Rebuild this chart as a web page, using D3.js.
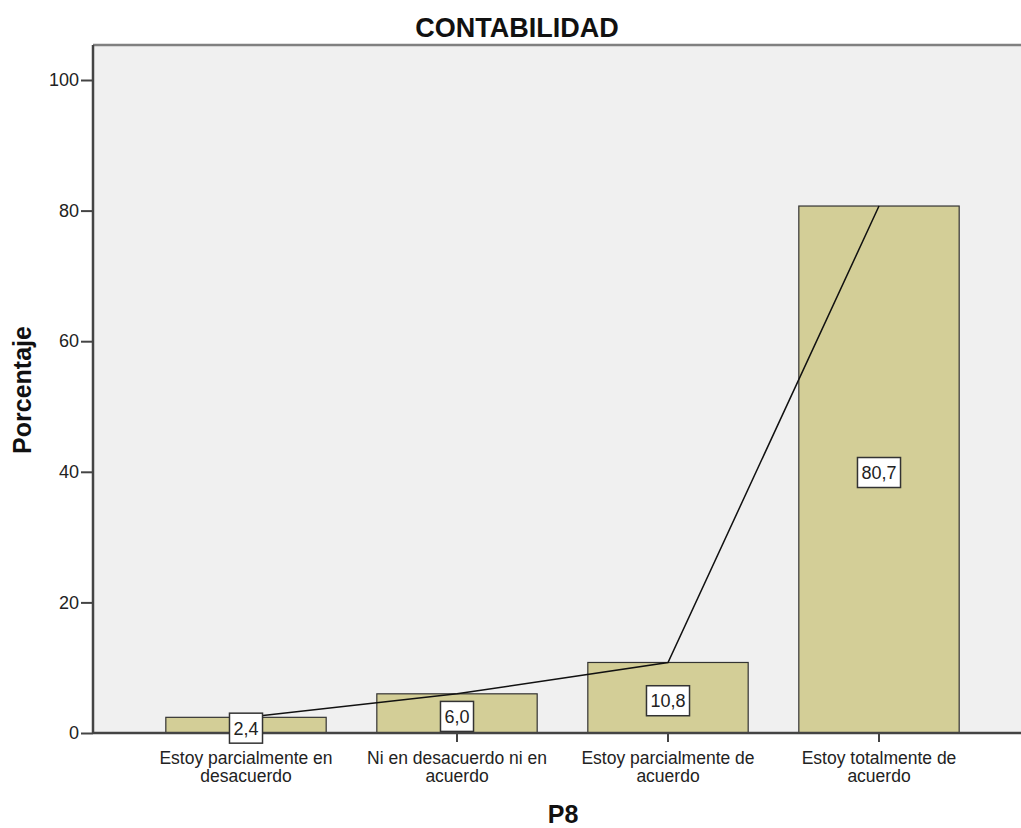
<!DOCTYPE html>
<html><head><meta charset="utf-8">
<script src="https://cdn.jsdelivr.net/npm/d3@7"></script>
<style>body{margin:0;background:#fff;} text{font-family:"Liberation Sans",Arial,sans-serif;}</style>
</head><body>
<svg id="c" width="1021" height="828"></svg>
<script>
const categories = [["Estoy parcialmente en","desacuerdo"],["Ni en desacuerdo ni en","acuerdo"],["Estoy parcialmente de","acuerdo"],["Estoy totalmente de","acuerdo"]];
const values = [2.4, 6.0, 10.8, 80.7];
const yTicks = [0, 20, 40, 60, 80, 100];
const title = "CONTABILIDAD";
const yTitle = "Porcentaje";
const xTitle = "P8";

const svg = d3.select("#c");
const L = 93, T = 45, R = 1021, B = 733;
const y = d3.scaleLinear().domain([0, 105.36]).range([B, T]);
const x = d3.scaleBand().domain(d3.range(categories.length)).range([140.5, 984.5]).paddingInner(0.24).paddingOuter(0.12);

svg.append("rect").attr("x", L).attr("y", T).attr("width", R - L).attr("height", B - T).attr("fill", "#f0f0f0");
svg.append("line").attr("x1", L).attr("x2", R).attr("y1", T).attr("y2", T).attr("stroke", "#808080").attr("stroke-width", 2.5);

// bars
svg.selectAll("rect.bar").data(values).enter().append("rect").attr("class", "bar")
  .attr("x", (d, i) => x(i)).attr("width", x.bandwidth())
  .attr("y", d => y(d)).attr("height", d => B - y(d))
  .attr("fill", "#d3ce97").attr("stroke", "#333").attr("stroke-width", 1.2);

// line
const line = d3.line().x((d, i) => x(i) + x.bandwidth() / 2).y(d => y(d));
svg.append("path").attr("d", line(values)).attr("fill", "none").attr("stroke", "#111").attr("stroke-width", 1.5);

// axes
const yAxis = svg.append("g").attr("transform", `translate(${L},0)`)
  .call(d3.axisLeft(y).tickValues(yTicks).tickSize(12).tickPadding(2).tickFormat(d3.format("d")));
yAxis.select(".domain").attr("stroke", "#444").attr("stroke-width", 2.5).attr("d", `M0,${T}V${B}`);
yAxis.selectAll(".tick line").attr("stroke", "#444").attr("stroke-width", 2);
yAxis.selectAll("text").attr("font-size", 18).attr("fill", "#222");

const xAxis = svg.append("g").attr("transform", `translate(0,${B})`)
  .call(d3.axisBottom(x).tickSize(9).tickFormat(""));
xAxis.select(".domain").attr("stroke", "#444").attr("stroke-width", 2.5).attr("d", `M${L},0H${R}`);
xAxis.selectAll(".tick line").attr("stroke", "#444").attr("stroke-width", 2);
xAxis.selectAll(".tick").each(function(d) {
  const g = d3.select(this);
  categories[d].forEach((s, k) => g.append("text").attr("fill", "#222").attr("font-size", 17.5)
    .attr("text-anchor", "middle").attr("x", 0).attr("y", 31 + k * 18).text(s));
});

// value labels
const fmt = v => v.toFixed(1).replace(".", ",");
values.forEach((v, i) => {
  const cx = x(i) + x.bandwidth() / 2, cy = y(v / 2) + 3;
  const g = svg.append("g");
  const t = g.append("text").attr("x", cx).attr("y", cy).attr("dy", "0.36em").attr("text-anchor", "middle").attr("font-size", 18).attr("fill", "#222").text(fmt(v));
  const bb = t.node().getBBox();
  g.insert("rect", "text").attr("x", bb.x - 4).attr("y", cy - 15).attr("width", bb.width + 8).attr("height", 30)
    .attr("fill", "#fff").attr("stroke", "#333").attr("stroke-width", 1.5);
});

// titles
svg.append("text").attr("x", 517).attr("y", 37).attr("text-anchor", "middle").attr("font-size", 27).attr("font-weight", "bold").attr("fill", "#111").text(title);
svg.append("text").attr("transform", "translate(31,390) rotate(-90)").attr("text-anchor", "middle").attr("font-size", 25).attr("font-weight", "bold").attr("fill", "#111").text(yTitle);
svg.append("text").attr("x", 563).attr("y", 823).attr("text-anchor", "middle").attr("font-size", 25).attr("font-weight", "bold").attr("fill", "#111").text(xTitle);
</script>
</body></html>
